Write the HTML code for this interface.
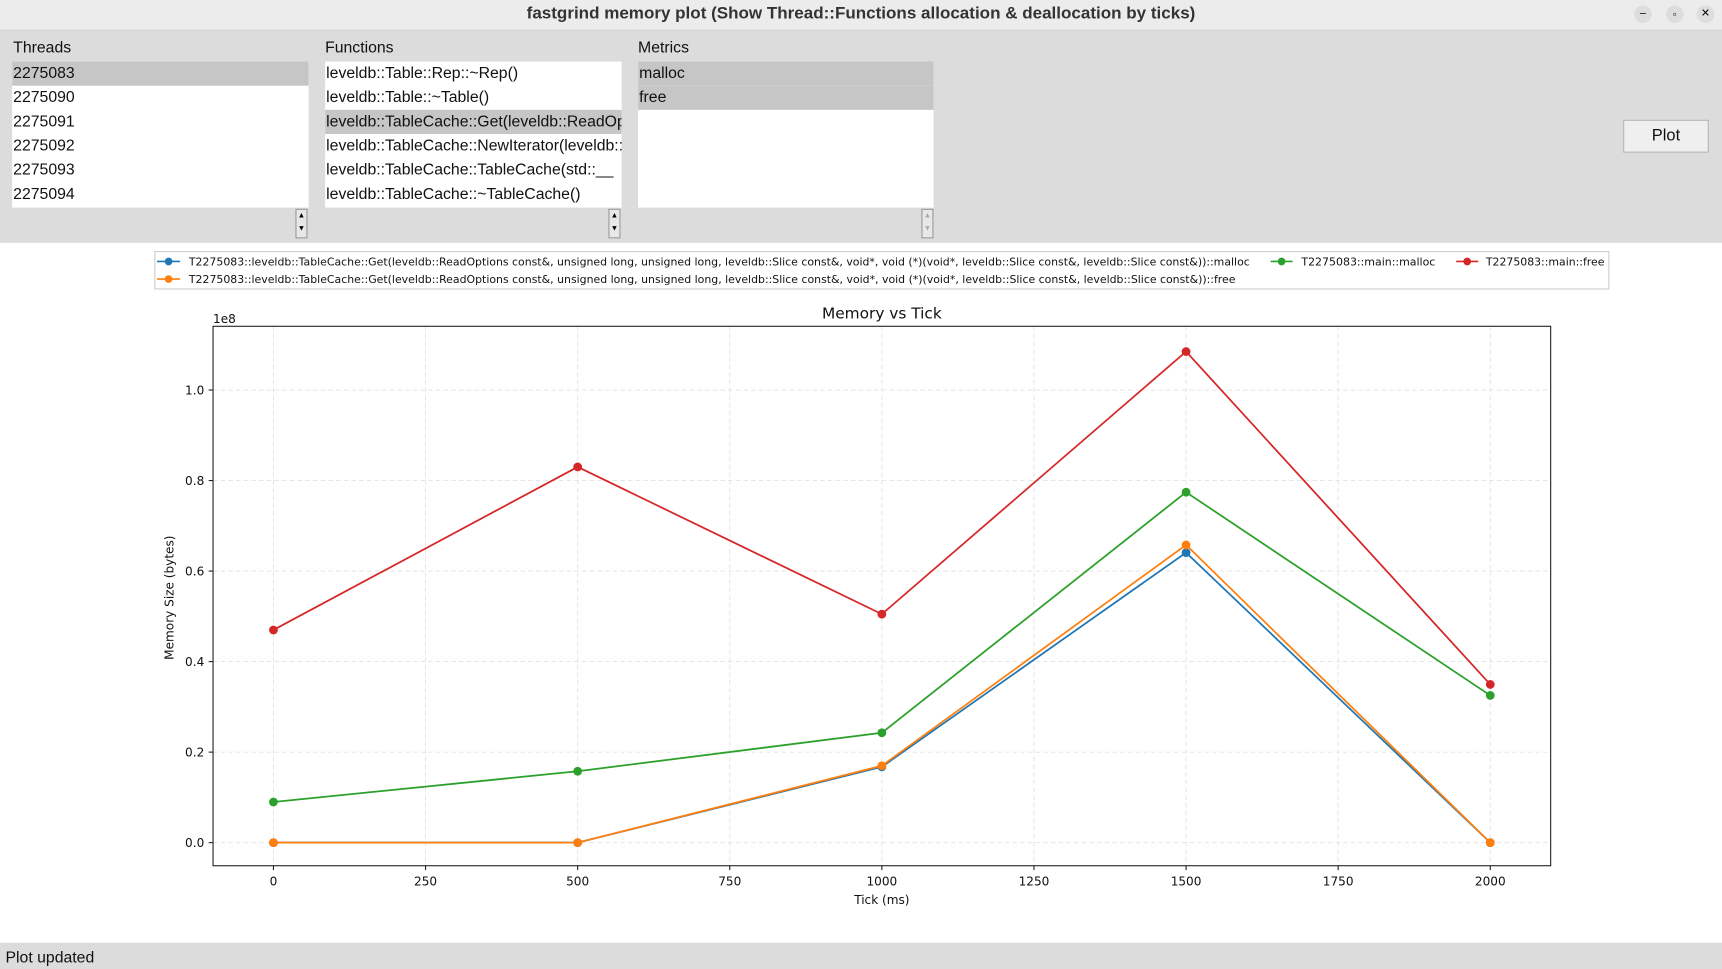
<!DOCTYPE html>
<html><head><meta charset="utf-8"><style>
html,body{margin:0;padding:0;width:1722px;height:969px;overflow:hidden;background:#fff}
#s{position:absolute;left:0;top:0;width:1568px;height:882px;transform:scale(1.09821,1.09864);transform-origin:0 0;font-family:"Liberation Sans","DejaVu Sans",sans-serif;}
.a{position:absolute}
.lst{position:absolute;background:#fff;border:1px solid #c8c8c8;box-sizing:border-box;overflow:hidden}
.lst div{height:22px;line-height:22px;font-size:14.4px;color:#111;white-space:nowrap;padding-left:1px}
.sel{background:#c6c6c6}
.lbl{position:absolute;font-size:14.4px;color:#111}
.sb{position:absolute;width:11px;height:27px;border:1px solid #999;background:#e8e8e8;box-sizing:border-box;font-size:7px;text-align:center;line-height:12px}
</style></head><body><div id="s">
<div class="a" style="left:0;top:0;width:1568px;height:27px;background:#ececec;border-bottom:1px solid #cfcfcf"></div>
<div class="a" style="left:0;top:4px;width:1568px;text-align:center;font-weight:bold;font-size:15.5px;color:#333">fastgrind memory plot (Show Thread::Functions allocation &amp; deallocation by ticks)</div>
<div class="a" style="left:1488px;top:5px;width:16px;height:16px;border-radius:8px;background:#ddd;font-size:10px;text-align:center;line-height:16px">–</div>
<div class="a" style="left:1517px;top:5px;width:16px;height:16px;border-radius:8px;background:#ddd;font-size:9px;text-align:center;line-height:16px">▫</div>
<div class="a" style="left:1545px;top:5px;width:16px;height:16px;border-radius:8px;background:#ddd;font-size:10px;text-align:center;line-height:16px">✕</div>
<div class="a" style="left:0;top:28px;width:1568px;height:193px;background:#dcdcdc"></div>
<div class="lbl" style="left:12px;top:36px">Threads</div>
<div class="lbl" style="left:296px;top:36px">Functions</div>
<div class="lbl" style="left:581px;top:36px">Metrics</div>
<div class="lst" style="left:11px;top:56px;width:270px;height:133px;border:none">
<div class="sel">2275083</div><div>2275090</div><div>2275091</div><div>2275092</div><div>2275093</div><div>2275094</div></div>
<div class="lst" style="left:296px;top:56px;width:270px;height:133px;border:none">
<div>leveldb::Table::Rep::~Rep()</div><div>leveldb::Table::~Table()</div><div class="sel">leveldb::TableCache::Get(leveldb::ReadOptions</div><div>leveldb::TableCache::NewIterator(leveldb::</div><div>leveldb::TableCache::TableCache(std::__</div><div>leveldb::TableCache::~TableCache()</div></div>
<div class="lst" style="left:581px;top:56px;width:269px;height:133px;border:none">
<div class="sel">malloc</div><div class="sel">free</div></div>
<div class="sb" style="left:269px;top:190px">▲<br>▼</div>
<div class="sb" style="left:554px;top:190px">▲<br>▼</div>
<div class="sb" style="left:839px;top:190px;color:#aaa">▲<br>▼</div>
<div class="a" style="left:1478px;top:109px;width:78px;height:30px;background:#efefef;border:1px solid #b5b5b5;box-sizing:border-box;font-size:15px;text-align:center;line-height:28px;color:#111">Plot</div>
<svg class="a" style="left:0;top:221px" width="1568" height="637" viewBox="0 221 1568 637" font-family="DejaVu Sans, sans-serif">
<rect x="141" y="229" width="1324" height="34" fill="#fff" stroke="#ccc"/>
<g font-size="9.5" fill="#111">
<line x1="143" y1="238" x2="164" y2="238" stroke="#1f77b4" stroke-width="1.5"/><circle cx="153.5" cy="238" r="3.5" fill="#1f77b4"/>
<text x="172" y="241.5" textLength="966" lengthAdjust="spacingAndGlyphs">T2275083::leveldb::TableCache::Get(leveldb::ReadOptions const&amp;, unsigned long, unsigned long, leveldb::Slice const&amp;, void*, void (*)(void*, leveldb::Slice const&amp;, leveldb::Slice const&amp;))::malloc</text>
<line x1="1157" y1="238" x2="1177" y2="238" stroke="#2ca02c" stroke-width="1.5"/><circle cx="1167" cy="238" r="3.5" fill="#2ca02c"/>
<text x="1185" y="241.5" textLength="122" lengthAdjust="spacingAndGlyphs">T2275083::main::malloc</text>
<line x1="1326" y1="238" x2="1346" y2="238" stroke="#d62728" stroke-width="1.5"/><circle cx="1336" cy="238" r="3.5" fill="#d62728"/>
<text x="1353" y="241.5" textLength="108" lengthAdjust="spacingAndGlyphs">T2275083::main::free</text>
<line x1="143" y1="254" x2="164" y2="254" stroke="#ff7f0e" stroke-width="1.5"/><circle cx="153.5" cy="254" r="3.5" fill="#ff7f0e"/>
<text x="172" y="257.5" textLength="953" lengthAdjust="spacingAndGlyphs">T2275083::leveldb::TableCache::Get(leveldb::ReadOptions const&amp;, unsigned long, unsigned long, leveldb::Slice const&amp;, void*, void (*)(void*, leveldb::Slice const&amp;, leveldb::Slice const&amp;))::free</text>
</g>
<text x="803" y="290" font-size="14" text-anchor="middle" fill="#111">Memory vs Tick</text>
<text x="194" y="294" font-size="11" fill="#111">1e8</text>
<g stroke="#e2e2e2" stroke-width="0.8" stroke-dasharray="4,3">
<line x1="249" y1="297" x2="249" y2="788"/><line x1="387.5" y1="297" x2="387.5" y2="788"/><line x1="526" y1="297" x2="526" y2="788"/><line x1="664.5" y1="297" x2="664.5" y2="788"/><line x1="803" y1="297" x2="803" y2="788"/><line x1="941.5" y1="297" x2="941.5" y2="788"/><line x1="1080" y1="297" x2="1080" y2="788"/><line x1="1218.5" y1="297" x2="1218.5" y2="788"/><line x1="1357" y1="297" x2="1357" y2="788"/>
<line x1="194" y1="767" x2="1412" y2="767"/><line x1="194" y1="684.6" x2="1412" y2="684.6"/><line x1="194" y1="602.2" x2="1412" y2="602.2"/><line x1="194" y1="519.8" x2="1412" y2="519.8"/><line x1="194" y1="437.4" x2="1412" y2="437.4"/><line x1="194" y1="355" x2="1412" y2="355"/>
</g>
<rect x="194" y="297" width="1218" height="491" fill="none" stroke="#222" stroke-width="1"/>
<g font-size="11" fill="#111" text-anchor="end">
<text x="186" y="771">0.0</text><text x="186" y="688.6">0.2</text><text x="186" y="606.2">0.4</text><text x="186" y="523.8">0.6</text><text x="186" y="441.4">0.8</text><text x="186" y="359">1.0</text>
</g>
<g stroke="#222"><line x1="190" y1="767" x2="194" y2="767"/><line x1="190" y1="684.6" x2="194" y2="684.6"/><line x1="190" y1="602.2" x2="194" y2="602.2"/><line x1="190" y1="519.8" x2="194" y2="519.8"/><line x1="190" y1="437.4" x2="194" y2="437.4"/><line x1="190" y1="355" x2="194" y2="355"/>
<line x1="249" y1="788" x2="249" y2="792"/><line x1="387.5" y1="788" x2="387.5" y2="792"/><line x1="526" y1="788" x2="526" y2="792"/><line x1="664.5" y1="788" x2="664.5" y2="792"/><line x1="803" y1="788" x2="803" y2="792"/><line x1="941.5" y1="788" x2="941.5" y2="792"/><line x1="1080" y1="788" x2="1080" y2="792"/><line x1="1218.5" y1="788" x2="1218.5" y2="792"/><line x1="1357" y1="788" x2="1357" y2="792"/></g>
<g font-size="11" fill="#111" text-anchor="middle">
<text x="249" y="806">0</text><text x="387.5" y="806">250</text><text x="526" y="806">500</text><text x="664.5" y="806">750</text><text x="803" y="806">1000</text><text x="941.5" y="806">1250</text><text x="1080" y="806">1500</text><text x="1218.5" y="806">1750</text><text x="1357" y="806">2000</text>
<text x="803" y="823">Tick (ms)</text>
<text transform="translate(158,544) rotate(-90)">Memory Size (bytes)</text>
</g>
<g fill="none" stroke-width="1.6">
<polyline stroke="#1f77b4" points="249,767 526,767 803,698 1080,503 1357,767"/>
<polyline stroke="#ff7f0e" points="249,767 526,767 803,697 1080,496 1357,767"/>
<polyline stroke="#2ca02c" points="249,730 526,702 803,667 1080,448 1357,633"/>
<polyline stroke="#d62728" points="249,573.4 526,425 803,559 1080,320 1357,623"/>
</g>
<g fill="#1f77b4"><circle cx="249" cy="767" r="4"/><circle cx="526" cy="767" r="4"/><circle cx="803" cy="698" r="4"/><circle cx="1080" cy="503" r="4"/><circle cx="1357" cy="767" r="4"/></g>
<g fill="#ff7f0e"><circle cx="249" cy="767" r="4"/><circle cx="526" cy="767" r="4"/><circle cx="803" cy="697" r="4"/><circle cx="1080" cy="496" r="4"/><circle cx="1357" cy="767" r="4"/></g>
<g fill="#2ca02c"><circle cx="249" cy="730" r="4"/><circle cx="526" cy="702" r="4"/><circle cx="803" cy="667" r="4"/><circle cx="1080" cy="448" r="4"/><circle cx="1357" cy="633" r="4"/></g>
<g fill="#d62728"><circle cx="249" cy="573.4" r="4"/><circle cx="526" cy="425" r="4"/><circle cx="803" cy="559" r="4"/><circle cx="1080" cy="320" r="4"/><circle cx="1357" cy="623" r="4"/></g>
</svg>
<div class="a" style="left:0;top:858px;width:1568px;height:24px;background:#dcdcdc"></div>
<div class="lbl" style="left:5px;top:864px">Plot updated</div>
</div></body></html>
